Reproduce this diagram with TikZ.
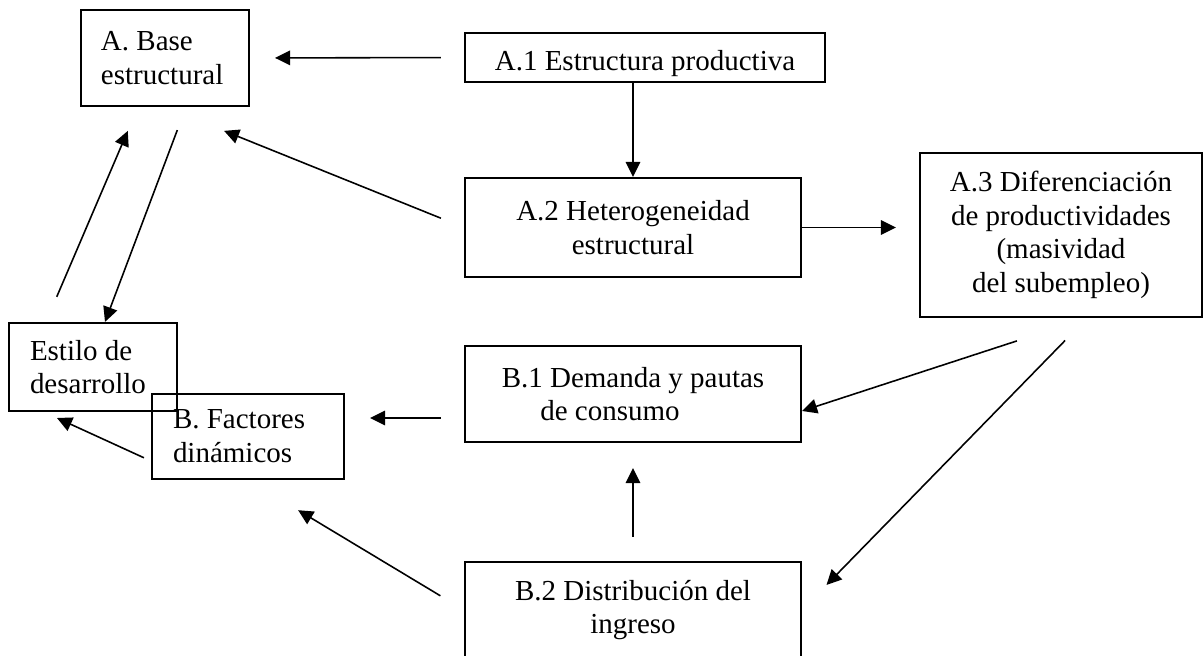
\documentclass[tikz,border=0pt]{standalone}
\usepackage{fontspec}
\setmainfont{Liberation Serif}
\usetikzlibrary{arrows.meta}
\usetikzlibrary{positioning}
\tikzset{caja/.style = {draw, line width=0.6pt, inner sep=0, align=center,
                        font=\fontsize{8.25}{9.6}\selectfont}}
\tikzset{cajaizq/.style = {caja, align=flush left, inner xsep=0.2cm}}
\tikzset{flecha/.style = {-{Triangle[length=1.5mm, width=1.45mm]}, line width=0.45pt}}

\begin{document}
\begin{tikzpicture}[x=1cm, y=-1cm]
    \useasboundingbox (0, 0) rectangle (12.03, 6.56);

    \node [cajaizq, text width=1.28cm, minimum height=0.96cm] (base) at (1.65, 0.58) {A. Base\\estructural};
    \node [caja, minimum width=3.60cm, minimum height=0.49cm, text height=0.27cm, text depth=0cm] (prod) at (6.45, 0.575) {A.1 Estructura productiva};
    \node [caja, minimum width=3.36cm, minimum height=0.99cm] (het) at (6.33, 2.275) {A.2 Heterogeneidad\\estructural};
    \node [caja, minimum width=2.82cm, minimum height=1.64cm] (dif) at (10.61, 2.35) {A.3 Diferenciaci\'on\\de productividades\\(masividad\\del subempleo)};
    \node [cajaizq, inner xsep=0.21cm, text width=1.26cm, minimum height=0.88cm] (estilo) at (0.93, 3.67) {Estilo de\\desarrollo};
    \node [cajaizq, inner xsep=0.21cm, text width=1.50cm, minimum height=0.85cm] (fact) at (2.48, 4.365) {B. Factores\\din\'amicos};
    \node [caja, minimum width=3.36cm, minimum height=0.96cm] (dem) at (6.33, 3.94) {B.1 Demanda y pautas\\de consumo\hspace*{0.46cm}};
    \node [caja, minimum width=3.36cm, minimum height=0.96cm] (dist) at (6.33, 6.10) {B.2 Distribuci\'on del\\ingreso};

    % base estructural
    \draw [flecha, shorten <=2.3mm, shorten >=2.5mm] (prod.west) -- (base.east);
    \draw [flecha] (prod.south -| het.north) -- (het.north);
    \draw [flecha, shorten <=2.48mm, shorten >=6.37mm] (het.west) -- (base.south);
    \draw [flecha, shorten <=2.73mm, shorten >=2.6mm] ([xshift=-4.7mm]estilo.north) -- ([xshift=-2.7mm]base.south);
    \draw [flecha, shorten <=2.46mm] ([xshift=2.1mm]base.south) -- ([xshift=1.2mm]estilo.north);
    \draw [flecha, shorten >=2.3mm] (het.east) -- (het.east -| dif.west);

    % subempleo
    \coordinate (salida) at ([xshift=2.6mm]dif.south);
    \draw [flecha, shorten <=7.37mm] (salida) -- ([yshift=-1.7mm]dem.east);
    \draw [flecha, shorten <=3.14mm, shorten >=3.5mm] (salida) -- (dist.east);

    % factores dinamicos
    \coordinate (consumo) at ([yshift=-2.4mm]dem.west);
    \draw [flecha, shorten <=2.3mm, shorten >=2.5mm] (consumo) -- (consumo -| fact.east);
    \draw [flecha, shorten <=2.4mm, shorten >=2.5mm] (dist.north) -- (dem.south);
    \draw [flecha, shorten <=2.75mm, shorten >=5.85mm] (dist.west) -- (fact.south);
    \draw [flecha, shorten <=0.77mm, shorten >=1.43mm] ([yshift=-2.45mm]fact.west) -- ([xshift=-4.9mm]estilo.south);
\end{tikzpicture}
\end{document}
